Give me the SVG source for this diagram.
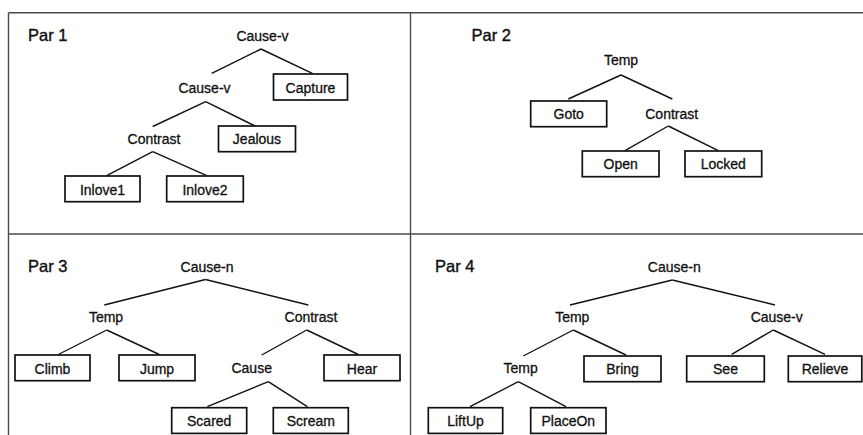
<svg xmlns="http://www.w3.org/2000/svg" width="863" height="435" viewBox="0 0 863 435">
<style>
  .frame{stroke:#4a4a4a;stroke-width:1.4;fill:none}
  .e{stroke:#111;stroke-width:1.4;fill:none}
  .box{fill:#fff;stroke:#111;stroke-width:1.7}
  text{font-family:"Liberation Sans",Arial,sans-serif;font-size:14px;fill:#111;stroke:#111;stroke-width:0.3;text-anchor:middle}
  .par{font-size:16.5px;stroke-width:0.4;text-anchor:start}
</style>
<rect width="863" height="435" fill="#fff"/>
<g id="frame">
  <line class="frame" x1="8.5" y1="12.7" x2="863" y2="12.7"/>
  <line class="frame" x1="8.5" y1="12.7" x2="8.5" y2="435"/>
  <line class="frame" x1="410.5" y1="12.7" x2="410.5" y2="435"/>
  <line class="frame" x1="8.5" y1="234" x2="863" y2="234"/>
</g>
<g id="titles">
  <text class="par" x="28" y="40.5">Par 1</text>
  <text class="par" x="471.5" y="41">Par 2</text>
  <text class="par" x="28" y="271.7">Par 3</text>
  <text class="par" x="435" y="271.7">Par 4</text>
</g>
<g id="connectors">
  <!-- Par 1 -->
  <line class="e" stroke-width="1.1" x1="261" y1="49" x2="211.7" y2="73.3"/>
  <line class="e" stroke-width="1.1" x1="261" y1="49" x2="312.3" y2="73.3"/>
  <line class="e" x1="205.7" y1="101.7" x2="152.7" y2="126.5"/>
  <line class="e" x1="205.7" y1="101.7" x2="255" y2="126"/>
  <line class="e" x1="152.7" y1="151.7" x2="106.7" y2="175.7"/>
  <line class="e" x1="152.7" y1="151.7" x2="206.7" y2="175.7"/>
  <!-- Par 2 -->
  <line class="e" x1="621" y1="75" x2="568.3" y2="99"/>
  <line class="e" x1="621" y1="75" x2="672.3" y2="99"/>
  <line class="e" x1="668.3" y1="126" x2="625" y2="150.7"/>
  <line class="e" x1="668.3" y1="126" x2="718.3" y2="150.7"/>
  <!-- Par 3 -->
  <line class="e" x1="205.5" y1="279.5" x2="104.3" y2="305"/>
  <line class="e" x1="205.5" y1="279.5" x2="308.3" y2="305"/>
  <line class="e" x1="106.7" y1="330" x2="58.3" y2="354.5"/>
  <line class="e" x1="106.7" y1="330" x2="159.3" y2="354.5"/>
  <line class="e" x1="306.7" y1="330" x2="261.7" y2="355"/>
  <line class="e" x1="306.7" y1="330" x2="358.3" y2="354.5"/>
  <line class="e" x1="268.3" y1="381.7" x2="207.3" y2="406.7"/>
  <line class="e" x1="268.3" y1="381.7" x2="307.3" y2="406.7"/>
  <!-- Par 4 -->
  <line class="e" x1="672.3" y1="280" x2="570" y2="305"/>
  <line class="e" x1="672.3" y1="280" x2="775" y2="305"/>
  <line class="e" x1="573.3" y1="330" x2="523.3" y2="356"/>
  <line class="e" x1="573.3" y1="330" x2="626" y2="355"/>
  <line class="e" x1="773.3" y1="330" x2="731.7" y2="354.3"/>
  <line class="e" x1="773.3" y1="330" x2="825" y2="354.3"/>
  <line class="e" x1="518.3" y1="381.7" x2="470" y2="406.7"/>
  <line class="e" x1="518.3" y1="381.7" x2="566" y2="406.7"/>
</g>
<!-- Par 1 nodes -->
<g id="p1-causev-root"><text x="262.5" y="40.5">Cause-v</text></g>
<g id="p1-capture"><rect class="box" x="273.5" y="74" width="74" height="26"/><text x="310.5" y="92.5">Capture</text></g>
<g id="p1-causev"><text x="204.5" y="93">Cause-v</text></g>
<g id="p1-jealous"><rect class="box" x="218.5" y="126" width="77" height="25.7"/><text x="257" y="144">Jealous</text></g>
<g id="p1-contrast"><text x="154" y="143.5">Contrast</text></g>
<g id="p1-inlove1"><rect class="box" x="65" y="176" width="75" height="25.7"/><text x="102.5" y="194.5">Inlove1</text></g>
<g id="p1-inlove2"><rect class="box" x="166.7" y="176" width="76.6" height="25.7"/><text x="205" y="194.5">Inlove2</text></g>
<!-- Par 2 nodes -->
<g id="p2-temp"><text x="621" y="65">Temp</text></g>
<g id="p2-goto"><rect class="box" x="530.7" y="101" width="76" height="25.7"/><text x="568.7" y="119">Goto</text></g>
<g id="p2-contrast"><text x="671.7" y="118.5">Contrast</text></g>
<g id="p2-open"><rect class="box" x="582.3" y="151" width="76.7" height="25.7"/><text x="620.7" y="169.3">Open</text></g>
<g id="p2-locked"><rect class="box" x="685" y="151" width="76.7" height="25.7"/><text x="723.3" y="169.3">Locked</text></g>
<!-- Par 3 nodes -->
<g id="p3-causen"><text x="207" y="272">Cause-n</text></g>
<g id="p3-temp"><text x="106" y="322">Temp</text></g>
<g id="p3-contrast"><text x="311" y="322">Contrast</text></g>
<g id="p3-climb"><rect class="box" x="15" y="355" width="75" height="25.7"/><text x="52.5" y="373.5">Climb</text></g>
<g id="p3-jump"><rect class="box" x="119" y="355" width="76" height="25.7"/><text x="157" y="373.5">Jump</text></g>
<g id="p3-cause"><text x="251.7" y="373.3">Cause</text></g>
<g id="p3-hear"><rect class="box" x="324" y="355" width="76" height="25.7"/><text x="362" y="373.5">Hear</text></g>
<g id="p3-scared"><rect class="box" x="171.7" y="407.7" width="75" height="25.7"/><text x="209.2" y="426">Scared</text></g>
<g id="p3-scream"><rect class="box" x="273.3" y="407.7" width="75" height="25.7"/><text x="310.8" y="426">Scream</text></g>
<!-- Par 4 nodes -->
<g id="p4-causen"><text x="674.3" y="272">Cause-n</text></g>
<g id="p4-temp"><text x="572.3" y="322">Temp</text></g>
<g id="p4-causev"><text x="776.7" y="322">Cause-v</text></g>
<g id="p4-temp2"><text x="520.7" y="373.3">Temp</text></g>
<g id="p4-bring"><rect class="box" x="584" y="356" width="77" height="25.7"/><text x="622.5" y="374">Bring</text></g>
<g id="p4-see"><rect class="box" x="686.7" y="356" width="77.6" height="25.7"/><text x="725.5" y="374">See</text></g>
<g id="p4-relieve"><rect class="box" x="788.3" y="356" width="73.5" height="25.7"/><text x="825" y="374">Relieve</text></g>
<g id="p4-liftup"><rect class="box" x="428.3" y="407.7" width="74.4" height="25.7"/><text x="465.5" y="426">LiftUp</text></g>
<g id="p4-placeon"><rect class="box" x="530.7" y="407.7" width="75.3" height="25.7"/><text x="568.3" y="426">PlaceOn</text></g>
</svg>
